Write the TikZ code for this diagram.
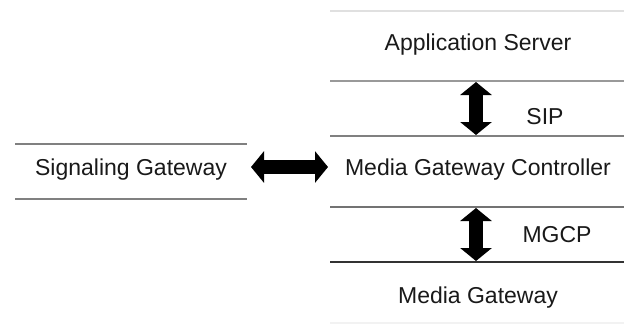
\documentclass[tikz,border=0pt]{standalone}
\usepackage{fontspec}
\setmainfont{Liberation Sans}
\usetikzlibrary{arrows.meta}
\begin{document}
\begin{tikzpicture}[x=1pt,y=-1pt,
  label/.style={font=\fontsize{23}{27}\selectfont, text=black!90, inner sep=0pt, anchor=center},
  rule/.style={line width=1.2pt},
  fatarrow/.style={line width=14pt, draw=black,
    {Triangle[length=13pt,width=31pt]}-{Triangle[length=13pt,width=31pt]}}]
  \useasboundingbox (0,0) rectangle (624,330);
  \fill[white] (0,0) rectangle (624,330);

  % layer separators of the right stack
  \draw[rule, black!12] (330,11) -- (624,11);
  \draw[rule, black!40] (330,81) -- (624,81);
  \draw[rule, black!50] (330,136) -- (624,136);
  \draw[rule, black!55] (330,207) -- (624,207);
  \draw[rule, black!80] (330,262) -- (624,262);
  \draw[rule, black!5] (330,323) -- (624,323);

  % signaling gateway box
  \draw[rule, black!50] (15,144) -- (247,144);
  \draw[rule, black!50] (15,199) -- (247,199);

  % labels
  \node[label] (as)  at (478,45)  {Application Server};
  \node[label] (sip) at (545,117) {SIP};
  \node[label] (mgc) at (478,170) {Media Gateway Controller};
  \node[label] (mgcp) at (557,235) {MGCP};
  \node[label] (mg)  at (478,298) {Media Gateway};
  \node[label] (sg)  at (131,170) {Signaling Gateway};

  % arrow end points
  \coordinate (asBot)  at (476,82);
  \coordinate (mgcTop) at (476,135);
  \coordinate (mgcBot) at (476,208);
  \coordinate (mgTop)  at (476,261);
  \coordinate (sgR)    at (251,167);
  \coordinate (mgcL)   at (328,167);

  \draw[fatarrow] (asBot) -- (mgcTop);
  \draw[fatarrow] (mgcBot) -- (mgTop);
  \draw[fatarrow] (sgR) -- (mgcL);
\end{tikzpicture}
\end{document}
